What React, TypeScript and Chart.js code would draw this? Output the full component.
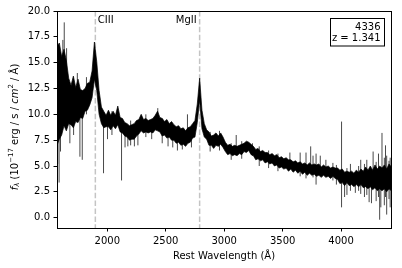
import React, { useEffect, useRef } from "react";
import { Chart, registerables } from "chart.js";

Chart.register(...registerables);

// ---- data ----
// The spectrum is drawn as a noise band (upper / lower envelope sampled every 20 Å)
// plus the isolated noise spikes that stick out of it.
const WAVE_START = 1570; // Å, first envelope sample
const WAVE_STEP = 20; // Å between envelope samples

const FLUX_HIGH = [
  16.6, 16.9, 15.6, 16.3, 15.2, 13.5, 12.8, 13.7, 12.6, 13.4,
  12.4, 12.3, 12.5, 13.0, 13.1, 14.2, 17.0, 15.1, 12.3, 10.7,
  10.3, 9.9, 10.4, 9.9, 10.3, 9.9, 10.8, 9.7, 9.6, 9.2,
  9.1, 8.9, 9.0, 9.1, 9.4, 9.5, 10.0, 9.5, 9.6, 9.4,
  9.5, 9.6, 9.9, 10.3, 9.7, 9.6, 9.3, 9.5, 9.1, 9.3,
  9.0, 8.8, 8.9, 8.6, 8.7, 8.4, 8.7, 8.8, 9.1, 9.4,
  11.0, 13.5, 10.4, 9.1, 8.5, 8.3, 7.9, 8.0, 8.2, 7.9,
  8.2, 7.8, 7.3, 7.0, 7.1, 6.9, 7.0, 6.9, 7.0, 7.1,
  7.2, 7.4, 7.3, 7.1, 6.9, 6.6, 6.7, 6.4, 6.5, 6.3,
  6.3, 6.1, 6.2, 6.0, 6.1, 5.8, 5.9, 5.7, 5.8, 5.6,
  5.6, 5.4, 5.5, 5.3, 5.4, 5.2, 5.3, 5.1, 5.3, 5.1,
  5.2, 5.1, 5.2, 4.9, 5.1, 4.9, 5.0, 4.8, 4.9, 4.8,
  4.8, 4.6, 4.7, 4.4, 4.5, 4.4, 4.5, 4.3, 4.6, 4.4,
  4.7, 4.5, 4.9, 4.6, 5.0, 4.6, 5.1, 4.7, 5.0, 4.8,
  5.1, 4.7, 5.2, 4.9,
];

const FLUX_LOW = [
  7.0, 7.6, 8.0, 8.9, 8.4, 9.1, 9.0, 8.7, 9.3, 9.2,
  9.7, 9.6, 10.3, 10.4, 10.9, 11.6, 13.4, 12.3, 10.0, 9.1,
  8.7, 8.8, 8.8, 8.5, 8.9, 8.6, 9.0, 8.3, 8.2, 7.9,
  7.8, 7.5, 7.6, 7.6, 7.9, 8.1, 8.4, 8.2, 8.3, 8.2,
  8.3, 8.2, 8.5, 8.4, 8.3, 7.9, 8.0, 7.7, 7.8, 7.5,
  7.5, 7.2, 7.3, 7.0, 7.1, 6.9, 7.2, 7.3, 7.7, 7.8,
  9.2, 11.4, 8.6, 7.8, 7.6, 7.0, 7.0, 6.7, 7.0, 6.9,
  7.1, 6.8, 6.4, 6.1, 6.2, 6.0, 6.1, 6.0, 6.2, 6.1,
  6.4, 6.3, 6.5, 6.1, 6.0, 5.6, 5.7, 5.5, 5.6, 5.3,
  5.4, 5.2, 5.3, 5.0, 5.1, 4.8, 4.9, 4.7, 4.8, 4.5,
  4.7, 4.4, 4.6, 4.3, 4.5, 4.2, 4.4, 4.1, 4.3, 4.1,
  4.2, 4.0, 4.1, 3.9, 4.1, 3.9, 4.0, 3.8, 4.0, 3.8,
  3.7, 3.3, 3.4, 3.1, 3.4, 3.1, 3.2, 3.0, 3.2, 3.0,
  3.2, 2.9, 3.0, 2.8, 3.0, 2.7, 2.9, 2.6, 2.8, 2.6,
  2.8, 2.5, 2.8, 2.6,
];

const SPIKE_WAVE = [
  1576, 1588, 1600, 1620, 1632, 1652, 1680, 1712, 1744, 1766, 1786, 1822,
  1968, 2002, 2040, 2122, 2152, 2176, 2200, 2232, 2262, 2330, 2380, 2432,
  2470, 2520, 2560, 2600, 2642, 2686, 2720, 2880, 2960,
  3060, 3103, 3150, 3242, 3300, 3380, 3460, 3562, 3650, 3700, 3740, 3760, 3786, 3822, 3870, 3930, 3960,
  4004, 4030, 4050, 4080, 4122, 4150, 4168, 4200, 4220, 4240, 4260, 4274, 4300, 4320, 4330, 4340, 4350,
  4370, 4380, 4390, 4410, 4420,
];
const SPIKE_LOW = [
  5.2, 3.4, 6.4, 12.0, 13.0, 9.0, 7.2, 8.0, 11.0, 5.9, 5.6, 10.0,
  4.3, 7.6, 8.0, 3.6, 6.8, 6.9, 7.0, 6.9, 7.0, 7.8, 7.6, 8.6,
  7.2, 6.9, 6.8, 6.5, 6.6, 8.0, 6.8, 6.4, 6.5,
  5.6, 6.5, 5.7, 6.0, 5.0, 4.8, 4.5, 4.9, 4.0, 3.8, 4.6, 3.9, 3.2, 4.4, 4.4, 3.6, 3.2,
  1.0, 2.0, 2.2, 2.6, 2.4, 2.6, 2.3, 2.0, 2.2, 1.5, 1.4, 3.4, 1.6, 2.0, -0.2, 1.0, 3.0,
  1.2, 2.0, 0.3, 1.8, 1.0,
];
const SPIKE_HIGH = [
  10.0, 9.0, 10.0, 17.2, 18.9, 16.4, 10.0, 10.0, 14.0, 10.0, 10.5, 13.6,
  9.0, 9.0, 10.3, 9.0, 9.0, 8.5, 9.4, 8.5, 8.5, 10.0, 9.0, 10.6,
  9.6, 9.0, 8.6, 8.0, 8.0, 10.0, 8.5, 8.3, 8.4,
  7.2, 8.0, 7.4, 7.2, 6.9, 6.5, 6.2, 6.3, 6.3, 6.3, 6.9, 6.0, 6.2, 6.0, 5.6, 5.3, 5.1,
  9.3, 4.2, 4.8, 5.2, 4.2, 5.0, 5.6, 5.2, 5.6, 4.5, 4.6, 6.4, 5.4, 6.2, 4.0, 4.5, 8.2,
  5.8, 7.0, 6.0, 5.5, 5.8,
];

const X_TICKS = [2000, 2500, 3000, 3500, 4000];
const Y_TICKS = [0, 2.5, 5, 7.5, 10, 12.5, 15, 17.5, 20];
const X_MIN = 1570;
const X_MAX = 4427;
const Y_MIN = -1;
const Y_MAX = 20;

const LINE_NAMES = ["CIII", "MgII"];
const LINE_WAVES = [1898, 2790];
const LINE_LABEL_Y = 18.8;

const OBJECT_ID = "4336";
const REDSHIFT_TEXT = "z = 1.341";
const X_TITLE = "Rest Wavelength (Å)";

const FONT = '"DejaVu Sans", sans-serif';

const decorPlugin = {
  id: "decor",
  beforeDatasetsDraw(chart: any) {
    const { ctx, chartArea: a, scales } = chart;
    const x = scales.x;
    ctx.save();
    ctx.strokeStyle = "#c4c4c4";
    ctx.lineWidth = 1.5;
    ctx.setLineDash([5.5, 2.4]);
    for (const w of LINE_WAVES) {
      const px = x.getPixelForValue(w);
      ctx.beginPath();
      ctx.moveTo(px, a.top);
      ctx.lineTo(px, a.bottom);
      ctx.stroke();
    }
    ctx.restore();
  },
  afterDraw(chart: any) {
    const { ctx, chartArea: a, scales } = chart;
    const x = scales.x;
    const y = scales.y;
    ctx.save();
    ctx.strokeStyle = "#000";
    ctx.lineWidth = 1;
    ctx.strokeRect(Math.round(a.left) + 0.5, Math.round(a.top) + 0.5, Math.round(a.right - a.left), Math.round(a.bottom - a.top));

    ctx.fillStyle = "#000";
    ctx.font = `10px ${FONT}`;
    ctx.textBaseline = "alphabetic";
    LINE_NAMES.forEach((name, i) => {
      const px = x.getPixelForValue(LINE_WAVES[i]);
      const py = y.getPixelForValue(LINE_LABEL_Y);
      if (i === 0) {
        ctx.textAlign = "left";
        ctx.fillText(name, px + 2.5, py);
      } else {
        ctx.textAlign = "right";
        ctx.fillText(name, px - 3, py);
      }
    });

    const bx = 330.5, by = 18.5, bw = 54, bh = 27.5;
    ctx.fillStyle = "#fff";
    ctx.fillRect(bx, by, bw, bh);
    ctx.strokeStyle = "#000";
    ctx.lineWidth = 1;
    ctx.strokeRect(bx, by, bw, bh);
    ctx.fillStyle = "#000";
    ctx.textAlign = "right";
    ctx.fillText(OBJECT_ID, 380.5, 29.5);
    ctx.fillText(REDSHIFT_TEXT, 380.5, 41);

    ctx.textAlign = "center";
    ctx.textBaseline = "middle";
    ctx.fillText(X_TITLE, (a.left + a.right) / 2, 256);

    const parts: [string, string, number][] = [
      ["f", `italic 10px ${FONT}`, 0],
      ["λ", `italic 7px ${FONT}`, 2],
      [" (10", `10px ${FONT}`, 0],
      ["−17", `7px ${FONT}`, -4],
      [" erg / s / ", `10px ${FONT}`, 0],
      ["cm", `italic 10px ${FONT}`, 0],
      ["2", `7px ${FONT}`, -4],
      [" / Å)", `10px ${FONT}`, 0],
    ];
    let total = 0;
    for (const [t, f] of parts) {
      ctx.font = f;
      total += ctx.measureText(t).width;
    }
    ctx.translate(15, 127);
    ctx.rotate(-Math.PI / 2);
    ctx.textAlign = "left";
    ctx.textBaseline = "middle";
    let cx = -total / 2;
    for (const [t, f, dy] of parts) {
      ctx.font = f;
      ctx.fillText(t, cx, dy);
      cx += ctx.measureText(t).width;
    }
    ctx.restore();
  },
};

export default function App() {
  const ref = useRef<HTMLCanvasElement | null>(null);

  useEffect(() => {
    if (!ref.current) return;
    const high = FLUX_HIGH.map((f, i) => ({ x: WAVE_START + i * WAVE_STEP, y: f }));
    const low = FLUX_LOW.map((f, i) => ({ x: WAVE_START + i * WAVE_STEP, y: f }));
    const spikes: { x: number; y: number | null }[] = [];
    SPIKE_WAVE.forEach((w, i) => {
      spikes.push({ x: w, y: SPIKE_LOW[i] }, { x: w, y: SPIKE_HIGH[i] }, { x: w, y: null });
    });
    const chart = new Chart(ref.current, {
      type: "line",
      data: {
        datasets: [
          {
            data: high,
            borderColor: "#000",
            backgroundColor: "#000",
            borderWidth: 0.7,
            pointRadius: 0,
            tension: 0,
            fill: "+1",
          },
          {
            data: low,
            borderColor: "#000",
            borderWidth: 0.7,
            pointRadius: 0,
            tension: 0,
            fill: false,
          },
          {
            data: spikes as any,
            borderColor: "#1a1a1a",
            borderWidth: 0.8,
            pointRadius: 0,
            tension: 0,
            fill: false,
            spanGaps: false,
          },
        ],
      },
      options: {
        animation: false,
        responsive: false,
        devicePixelRatio: 1,
        layout: { padding: { left: 0, top: 11, right: 11, bottom: 0 } },
        plugins: { legend: { display: false }, tooltip: { enabled: false } },
        scales: {
          x: {
            type: "linear",
            min: X_MIN,
            max: X_MAX,
            afterBuildTicks: (s: any) => {
              s.ticks = X_TICKS.map((v) => ({ value: v }));
            },
            afterFit: (s: any) => {
              s.height = 40;
            },
            grid: { display: true, drawOnChartArea: false, drawTicks: true, tickLength: 3.5, color: "#000", tickColor: "#000" },
            border: { display: false },
            ticks: { color: "#000", font: { family: FONT, size: 10 }, padding: 4, maxRotation: 0, callback: (v: any) => String(v) },
          },
          y: {
            type: "linear",
            min: Y_MIN,
            max: Y_MAX,
            afterBuildTicks: (s: any) => {
              s.ticks = Y_TICKS.map((v) => ({ value: v }));
            },
            afterFit: (s: any) => {
              s.width = 57;
            },
            grid: { display: true, drawOnChartArea: false, drawTicks: true, tickLength: 3.5, color: "#000", tickColor: "#000" },
            border: { display: false },
            ticks: { color: "#000", font: { family: FONT, size: 10 }, padding: 3.5, callback: (v: any) => Number(v).toFixed(1) },
          },
        },
      },
      plugins: [decorPlugin],
    });
    return () => chart.destroy();
  }, []);

  return (
    <div style={{ position: "fixed", left: 0, top: 0, width: 402, height: 268, background: "#fff" }}>
      <canvas ref={ref} width={402} height={268} style={{ width: 402, height: 268 }} />
    </div>
  );
}
